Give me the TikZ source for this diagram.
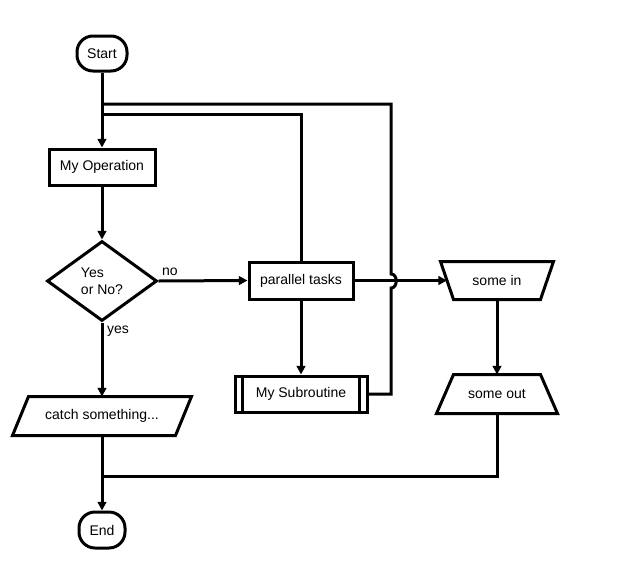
\documentclass[tikz,border=0pt]{standalone}
\usepackage{fontspec}
\setmainfont{Liberation Sans}
\usetikzlibrary{shapes.geometric,arrows.meta,calc}
\begin{document}
\begin{tikzpicture}[x=0.75pt,y=-0.75pt,
  every node/.style={font=\fontsize{10.5pt}{13pt}\selectfont, inner sep=0pt},
  lw/.style={line width=2.25pt},
  arr/.style={lw, -{Triangle[length=6.5pt,width=6.5pt]}},
  box/.style={draw, lw, rectangle},
  term/.style={draw, lw, rectangle, rounded corners=12pt},
  diam/.style={draw, lw, diamond, aspect=1.375},
  shp/.style={lw, rectangle},
  lbl/.style={font=\fontsize{10.5pt}{13pt}\selectfont}
]
\useasboundingbox (0,0) rectangle (618,565);

\node[term, minimum width=37.5pt, minimum height=26.25pt] (start) at (102,53.5) {Start};
\node[box, minimum width=79.5pt, minimum height=27pt] (op) at (102,167) {My Operation};
\node[diam, minimum width=82.5pt, minimum height=60pt, align=left] (dec) at (102,281) {Yes\\or No?};
\node[box, minimum width=78pt, minimum height=27.75pt] (par) at (301,280.5) {parallel tasks};
\node[box, minimum width=99pt, minimum height=27pt] (sub) at (301,394) {My Subroutine};
\node[shp, minimum width=63pt, minimum height=26.25pt] (sin) at (497,280.5) {some in};
\node[shp, minimum width=63pt, minimum height=27pt] (sout) at (497,394) {some out};
\node[shp, minimum width=120pt, minimum height=27pt] (catch) at (102,416) {catch something...};
\node[term, minimum width=34.5pt, minimum height=27pt] (end) at (102,530) {End};

% shape outlines
\draw[lw] ($(sub.north west)+(9,0)$) -- ($(sub.south west)+(9,0)$);
\draw[lw] ($(sub.north east)+(-9,0)$) -- ($(sub.south east)+(-9,0)$);
\draw[lw] ($(sin.north west)+(-13,0)$) -- ($(sin.north east)+(13,0)$) -- (sin.south east) -- (sin.south west) -- cycle;
\draw[lw] (sout.north west) -- (sout.north east) -- ($(sout.south east)+(17,0)$) -- ($(sout.south west)+(-17,0)$) -- cycle;
\draw[lw] ($(catch.north west)+(8,0)$) -- ($(catch.north east)+(8,0)$) -- ($(catch.south east)+(-8,0)$) -- ($(catch.south west)+(-8,0)$) -- cycle;

% junction coordinates
\coordinate (j1) at (102,104);
\coordinate (j2) at (102,114);
\coordinate (j3) at (102,476);
\coordinate (sinw) at ($(sin.west)+(-6.5,0)$);

% connectors
\draw[arr] (start) -- (op);
\draw[arr] (op) -- (dec);
\draw[arr] (dec) -- (catch);
\draw[arr] (catch) -- (end);
\draw[arr] (dec.east) -- (par.west);
\draw[arr] (par) -- (sub);
\draw[arr] (par.east) -- (sinw);
\draw[arr] (sin) -- (sout);
\draw[lw] (par.north) -- (par.north |- j2) -- (j2);
\draw[lw] (sub.east) -- (391,394) -- (391,288) .. controls (398,288) and (398,274) .. (391,274) -- (391,104) -- (j1);
\draw[lw] (sout.south) -- (sout.south |- j3) -- (j3);

% labels
\node[lbl] (lno) at (170,272) {no};
\node[lbl] (lyes) at (118,331) {yes};
\end{tikzpicture}
\end{document}
